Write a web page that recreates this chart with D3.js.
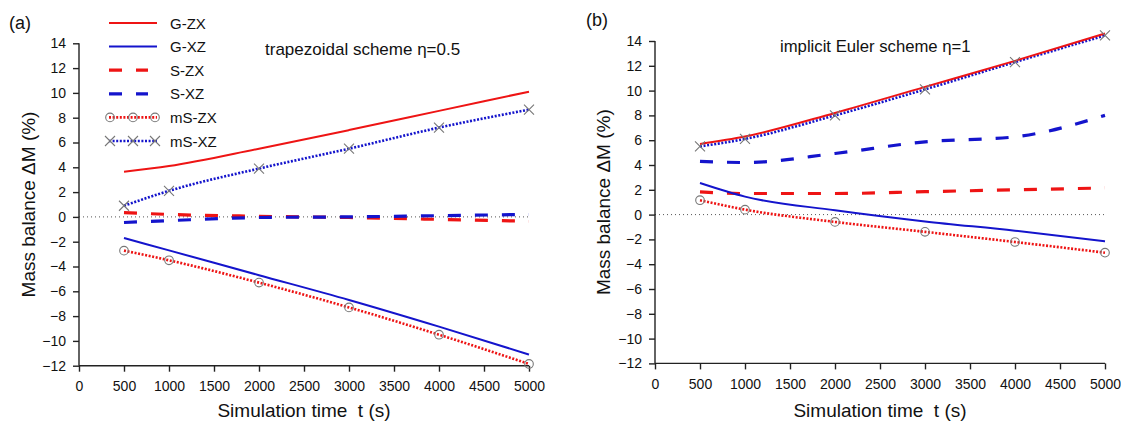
<!DOCTYPE html>
<html>
<head>
<meta charset="utf-8">
<script src="https://cdn.jsdelivr.net/npm/d3@7"></script>
<style>
  html, body { margin: 0; padding: 0; background: #fff; }
  svg { display: block; font-family: "Liberation Sans", Arial, sans-serif; }
  text { white-space: pre; }
</style>
</head>
<body>
<svg id="chart" width="1121" height="424"></svg>
<script>
// ---------------- DATA ----------------
const times = [500, 1000, 2000, 3000, 4000, 5000];
const xTicks = [0, 500, 1000, 1500, 2000, 2500, 3000, 3500, 4000, 4500, 5000];
const yTicks = [-12, -10, -8, -6, -4, -2, 0, 2, 4, 6, 8, 10, 12, 14];
const seriesNames = ["G-ZX", "G-XZ", "S-ZX", "S-XZ", "mS-ZX", "mS-XZ"];

// (a) trapezoidal scheme
const aGZX  = [3.65, 4.1, 5.5, 7.0, 8.55, 10.1];
const aGXZ  = [-1.7, -2.7, -4.7, -6.7, -8.85, -11.1];
const aSZX  = [0.35, 0.2, 0.05, -0.05, -0.2, -0.35];
const aSXZ  = [-0.45, -0.3, -0.05, 0.0, 0.1, 0.2];
const amSZX = [-2.72, -3.5, -5.3, -7.3, -9.5, -11.86];
const amSXZ = [0.9, 2.1, 3.9, 5.5, 7.2, 8.65];

// (b) implicit Euler scheme
const bGZX  = [5.7, 6.3, 8.2, 10.3, 12.4, 14.6];
const bGXZ  = [2.55, 1.45, 0.35, -0.55, -1.3, -2.16];
const bSZX  = [1.83, 1.7, 1.7, 1.85, 2.0, 2.15];
const bSXZ  = [4.3, 4.2, 4.93, 5.87, 6.27, 8.0];
const bmSZX = [1.16, 0.4, -0.59, -1.39, -2.21, -3.07];
const bmSXZ = [5.5, 6.1, 8.0, 10.1, 12.3, 14.45];

// ---------------- STYLE ----------------
const RED = "#ee1414", BLUE = "#1414cc", GRAY = "#777";
const styles = {
  "G-ZX":  {color: RED,  width: 2,   dash: null},
  "G-XZ":  {color: BLUE, width: 2,   dash: null},
  "S-ZX":  {color: RED,  width: 3.2, dash: "13,14"},
  "S-XZ":  {color: BLUE, width: 3.2, dash: "13,14"},
  "mS-ZX": {color: RED,  width: 2.6, dash: "2,1.6", marker: "circle"},
  "mS-XZ": {color: BLUE, width: 2.6, dash: "2,1.6", marker: "x"}
};

const svg = d3.select("#chart");

function drawPanel(cfg) {
  const x = d3.scaleLinear().domain([0, 5000]).range([cfg.x0, cfg.x1]);
  const y = d3.scaleLinear().domain([-12, 14]).range([cfg.yBottom, cfg.yTop]);
  const g = svg.append("g");

  // zero reference dotted line
  g.append("line")
    .attr("x1", x(0)).attr("x2", x(5000))
    .attr("y1", y(0)).attr("y2", y(0))
    .attr("stroke", "#555").attr("stroke-width", 1)
    .attr("stroke-dasharray", "1,3");

  // axes
  const xAxis = d3.axisBottom(x).tickValues(xTicks).tickSize(6).tickPadding(11).tickFormat(d3.format("d"));
  const yAxis = d3.axisLeft(y).tickValues(yTicks).tickSize(6).tickPadding(7).tickFormat(d3.format("d"));
  const gx = g.append("g").attr("transform", `translate(0,${cfg.yBottom})`).call(xAxis);
  const gy = g.append("g").attr("transform", `translate(${cfg.x0},0)`).call(yAxis);
  [gx, gy].forEach(a => {
    a.select(".domain").attr("stroke", "#222").attr("stroke-width", 1.4);
    a.selectAll(".tick line").attr("stroke", "#222").attr("stroke-width", 1.4);
    a.selectAll(".tick text").attr("fill", "#111").style("font-size", "14px")
      .style("font-family", "'Liberation Sans', Arial, sans-serif");
  });
  gx.selectAll(".tick text").attr("dy", "0.6em");
  gx.select(".domain").attr("d", `M${cfg.x0},0H${cfg.x1}`);
  gy.select(".domain").attr("d", `M0,${cfg.yBottom}V${cfg.yTop}`);

  // series
  const order = ["S-ZX", "S-XZ", "mS-ZX", "mS-XZ", "G-XZ", "G-ZX"];
  const line = d3.line().x(d => x(d[0])).y(d => y(d[1])).curve(d3.curveMonotoneX);
  order.forEach(name => {
    const st = styles[name];
    const pts = times.map((t, i) => [t, cfg.data[name][i]]);
    g.append("path").datum(pts)
      .attr("d", line)
      .attr("fill", "none")
      .attr("stroke", st.color)
      .attr("stroke-width", st.width)
      .attr("stroke-dasharray", st.dash);
  });
  // markers
  ["mS-ZX", "mS-XZ"].forEach(name => {
    const st = styles[name];
    const pts = times.map((t, i) => [t, cfg.data[name][i]]);
    drawMarkers(g, pts.map(p => [x(p[0]), y(p[1])]), st.marker);
  });

  // labels
  svg.append("text").attr("x", cfg.tagX).attr("y", cfg.tagY).text(cfg.tag)
    .style("font-size", "18px").attr("fill", "#111");
  svg.append("text").attr("x", cfg.noteX).attr("y", cfg.noteY).text(cfg.note)
    .style("font-size", cfg.noteSize).attr("fill", "#111");
  svg.append("text")
    .attr("transform", `translate(${cfg.yTitleX},${(cfg.yTop + cfg.yBottom) / 2}) rotate(-90)`)
    .attr("text-anchor", "middle")
    .style("font-size", "19px").attr("fill", "#111")
    .text("Mass balance ΔM (%)");
  svg.append("text")
    .attr("x", (cfg.x0 + cfg.x1) / 2).attr("y", cfg.xTitleY)
    .attr("text-anchor", "middle")
    .style("font-size", "19px").attr("fill", "#111")
    .text("Simulation time  t (s)");
}

function drawMarkers(g, pts, kind) {
  pts.forEach(([px, py]) => {
    if (kind === "circle") {
      g.append("circle").attr("cx", px).attr("cy", py).attr("r", 4.3)
        .attr("fill", "none").attr("stroke", GRAY).attr("stroke-width", 1.1);
    } else {
      const s = 5;
      g.append("path")
        .attr("d", `M${px - s},${py - s}L${px + s},${py + s}M${px - s},${py + s}L${px + s},${py - s}`)
        .attr("stroke", GRAY).attr("stroke-width", 1.1).attr("fill", "none");
    }
  });
}

drawPanel({
  x0: 79, x1: 529, yTop: 43.3, yBottom: 365.7,
  data: {"G-ZX": aGZX, "G-XZ": aGXZ, "S-ZX": aSZX, "S-XZ": aSXZ, "mS-ZX": amSZX, "mS-XZ": amSXZ},
  tag: "(a)", tagX: 9, tagY: 29,
  note: "trapezoidal scheme η=0.5", noteX: 265, noteY: 55, noteSize: "17px",
  yTitleX: 35, xTitleY: 417
});
drawPanel({
  x0: 655, x1: 1105, yTop: 41, yBottom: 363.4,
  data: {"G-ZX": bGZX, "G-XZ": bGXZ, "S-ZX": bSZX, "S-XZ": bSXZ, "mS-ZX": bmSZX, "mS-XZ": bmSXZ},
  tag: "(b)", tagX: 586, tagY: 26,
  note: "implicit Euler scheme η=1", noteX: 780, noteY: 52, noteSize: "16.7px",
  yTitleX: 610, xTitleY: 417
});

// ---------------- LEGEND ----------------
const leg = svg.append("g");
const legY0 = 23, legDy = 23.6, lx0 = 109, lx1 = 157;
seriesNames.forEach((name, i) => {
  const st = styles[name];
  const yy = legY0 + i * legDy;
  const isS = name.startsWith("S-");
  leg.append("line")
    .attr("x1", lx0).attr("x2", isS ? 148 : lx1)
    .attr("y1", yy).attr("y2", yy)
    .attr("stroke", st.color).attr("stroke-width", st.width)
    .attr("stroke-dasharray", st.dash);
  if (st.marker) drawMarkers(leg, [[lx0 + 1, yy], [lx0 + 24, yy], [lx1 - 2, yy]], st.marker);
  leg.append("text").attr("x", 170).attr("y", yy + 5.5).text(name)
    .style("font-size", "15px").attr("fill", "#111");
});
</script>
</body>
</html>
